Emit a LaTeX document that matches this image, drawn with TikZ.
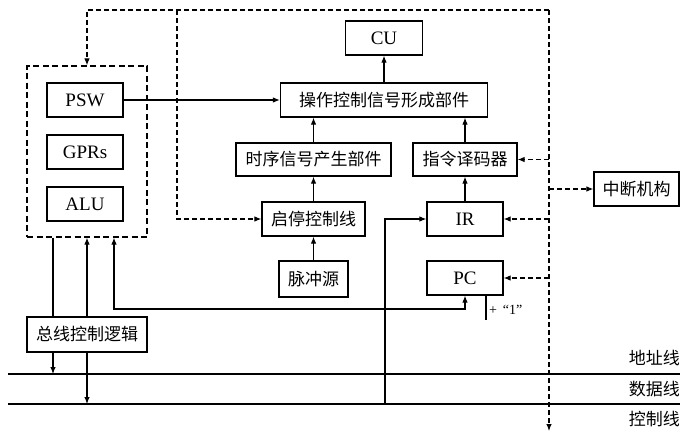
\documentclass[tikz,border=0pt]{standalone}
\usepackage{fontspec}
\setmainfont{Liberation Serif}
\newfontfamily\cjk{Noto Sans CJK SC}
\usetikzlibrary{arrows.meta}

\begin{document}
\begin{tikzpicture}[x=1pt,y=-1pt,
  box/.style={draw, line width=1.2pt, minimum height=34pt, inner sep=0pt,
              font=\fontsize{19}{19}\selectfont},
  cbox/.style={box, font=\cjk\fontsize{17}{17}\selectfont},
  wire/.style={line width=1.1pt},
  link/.style={wire, -{Latex[length=7pt,width=5.5pt]}},
  dlink/.style={link, dash pattern=on 5pt off 3pt},
  lab/.style={font=\cjk\fontsize{17}{17}\selectfont, inner sep=0pt}
]
\useasboundingbox (0,0) rectangle (680,434);

% processor registers and ALU group
\node[box, dash pattern=on 6pt off 3.5pt, minimum width=120pt, minimum height=171pt] (cpu) at (87,151.5) {};
\node[box, minimum width=76pt] (psw) at (85,100) {PSW};
\node[box, minimum width=76pt] (gpr) at (85,152) {GPRs};
\node[box, minimum width=76pt] (alu) at (85,204) {ALU};

% control unit blocks
\node[box, minimum width=77pt] (cu) at (384,38) {CU};
\node[cbox, minimum width=207pt] (ctl) at (384,100) {操作控制信号形成部件};
\node[cbox, minimum width=155pt, minimum height=33pt] (tim) at (313.5,159.5) {时序信号产生部件};
\node[cbox, minimum width=104pt, minimum height=33pt] (dec) at (465,159.5) {指令译码器};
\node[cbox, minimum width=85pt] (intr) at (636.5,189) {中断机构};
\node[cbox, minimum width=103pt] (run) at (313.5,219) {启停控制线};
\node[box, minimum width=76pt] (ir) at (465,219) {IR};
\node[cbox, minimum width=69pt, minimum height=36pt] (pulse) at (313.5,279) {脉冲源};
\node[box, minimum width=76pt] (pc) at (465,278) {PC};
\node[cbox, minimum width=120pt, minimum height=35pt] (busctl) at (87,334.5) {总线控制逻辑};

% system bus
\coordinate (addrL) at (8,374);
\coordinate (addrR) at (680,374);
\coordinate (dataL) at (8,404);
\coordinate (dataR) at (680,404);
\draw[wire] (addrL) -- (addrR);
\draw[wire] (dataL) -- (dataR);
\node[lab, anchor=east] (laddr) at (680,358) {地址线};
\node[lab, anchor=east] (ldata) at (680,389) {数据线};
\node[lab, anchor=east] (lctl) at (680,419) {控制线};

% solid signal paths
\draw[link] (psw.east) -- (ctl.west);
\draw[link] (ctl.north) -- (cu.south);
\draw[link] (tim.north) -- (tim.north |- ctl.south);
\draw[link] (dec.north) -- (dec.north |- ctl.south);
\draw[link] (run.north) -- (tim.south);
\draw[link] (pulse.north) -- (run.south);
\draw[link] (ir.north) -- (dec.south);

\coordinate (irbus) at (385,404);
\draw[link] (irbus) -- (irbus |- ir.west) -- (ir.west);

\coordinate (pcbus) at (114,309);
\draw[wire, {Latex[length=7pt,width=5.5pt]}-{Latex[length=7pt,width=5.5pt]}]
  (cpu.south -| pcbus) -- (pcbus) -- (pcbus -| pc.south) -- (pc.south);

\coordinate (inc) at (486,320);
\draw[wire] (inc |- pc.south) -- (inc);
\node[anchor=west, inner sep=0pt, font=\fontsize{14}{14}\selectfont] (incl) at (489,310) {+ \,“1”};

\coordinate (abus) at (53,0);
\draw[wire] (cpu.south -| abus) -- (busctl.north -| abus);
\draw[link] (busctl.south -| abus) -- (abus |- addrL);
\draw[link] (busctl.north) -- (cpu.south);
\draw[link] (busctl.south) -- (busctl.south |- dataL);

% dashed control paths
\coordinate (tl) at (87,10);
\coordinate (tm) at (177,10);
\coordinate (tr) at (549,10);
\coordinate (bot) at (549,431);
\draw[dlink] (tr) -- (tl) -- (cpu.north);
\draw[dlink] (tm) -- (tm |- run.west) -- (run.west);
\draw[dlink] (tr) -- (bot);
\draw[dlink] (tr |- dec.east) -- (dec.east);
\draw[dlink] (tr |- intr.west) -- (intr.west);
\draw[dlink] (tr |- ir.east) -- (ir.east);
\draw[dlink] (tr |- pc.east) -- (pc.east);
\end{tikzpicture}
\end{document}
